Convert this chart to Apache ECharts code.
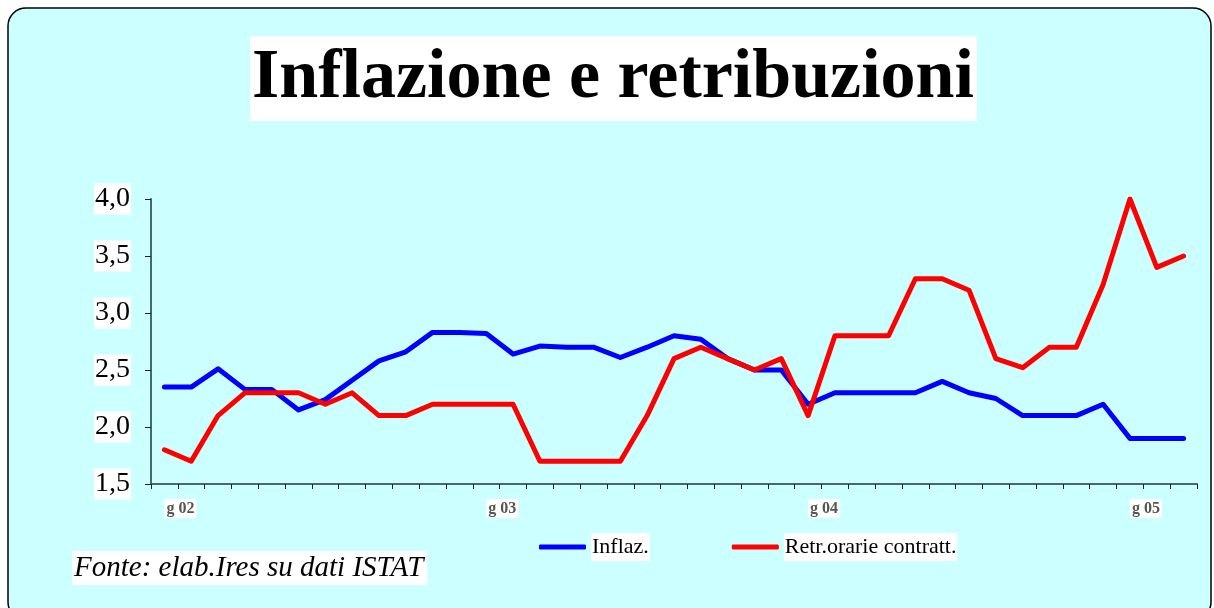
<!DOCTYPE html>
<html>
<head>
<meta charset="utf-8">
<script src="https://cdn.jsdelivr.net/npm/echarts@6/dist/echarts.min.js"></script>
<style>
    html, body { margin: 0; padding: 0; background: #fff; }
    #chart { width: 1214px; height: 608px; }
</style>
</head>
<body>
<div id="chart"></div>
<script>
    // mesi gen 2002 - mar 2005
    var mesi = ['gen','feb','mar','apr','mag','giu','lug','ago','set','ott','nov','dic'];
    var anni = ['02','03','04','05'];
    var categorie = [];
    for (var a = 0; a < anni.length; a++) {
        for (var m = 0; m < mesi.length; m++) {
            if (a === 3 && m > 2) break;
            categorie.push(mesi[m] + ' ' + anni[a]);
        }
    }
    var yTicks = ['1,5','2,0','2,5','3,0','3,5','4,0'];

    var inflaz = [2.35, 2.35, 2.51, 2.33, 2.33, 2.15, 2.24, 2.41, 2.58, 2.66, 2.83, 2.83,
                  2.82, 2.64, 2.71, 2.70, 2.70, 2.61, 2.70, 2.80, 2.77, 2.60, 2.50, 2.50,
                  2.20, 2.30, 2.30, 2.30, 2.30, 2.40, 2.30, 2.25, 2.10, 2.10, 2.10, 2.20,
                  1.90, 1.90, 1.90];
    var retrib = [1.80, 1.70, 2.10, 2.30, 2.30, 2.30, 2.20, 2.30, 2.10, 2.10, 2.20, 2.20,
                  2.20, 2.20, 1.70, 1.70, 1.70, 1.70, 2.10, 2.60, 2.70, 2.60, 2.50, 2.60,
                  2.10, 2.80, 2.80, 2.80, 3.30, 3.30, 3.20, 2.60, 2.52, 2.70, 2.70, 3.25,
                  4.00, 3.40, 3.50];

    var serif = '"Liberation Serif", "DejaVu Serif", serif';
    var chart = echarts.init(document.getElementById('chart'));

    chart.setOption({
        animation: false,
        backgroundColor: '#fff',
        title: {
            text: 'Inflazione e retribuzioni',
            left: 250,
            top: 36,
            padding: [8, 3, 7, 2],
            backgroundColor: '#fff',
            textStyle: {
                fontFamily: serif,
                fontWeight: 'bold',
                fontSize: 70,
                lineHeight: 70,
                color: '#000'
            }
        },
        legend: {
            left: 539,
            top: 533,
            padding: 0,
            width: 600,
            icon: 'roundRect',
            itemWidth: 47,
            itemHeight: 5,
            itemGap: 82,
            textStyle: {
                fontFamily: serif,
                fontSize: 22,
                color: '#000',
                backgroundColor: '#fff',
                padding: [3, 1, 3, 1]
            },
            data: ['Inflaz.', 'Retr.orarie contratt.']
        },
        grid: { left: 151, right: 17, top: 199, bottom: 124 },
        xAxis: {
            type: 'category',
            data: categorie,
            boundaryGap: true,
            axisLine: { lineStyle: { color: '#4a6868', width: 2 } },
            axisTick: { show: true, interval: 0, length: 5, lineStyle: { color: '#222', width: 1 } },
            axisLabel: {
                interval: function (idx) { return idx % 12 === 0; },
                formatter: function (v) {
                    return v.charAt(0) + ' ' + v.split(' ')[1];
                },
                align: 'left',
                margin: 15,
                fontFamily: serif,
                fontWeight: 'bold',
                fontSize: 16,
                color: '#555',
                backgroundColor: '#fff',
                padding: [2, 2, 1, 2]
            },
            splitLine: { show: false }
        },
        yAxis: {
            type: 'value',
            min: 1.5,
            max: 4.0,
            interval: 0.5,
            axisLine: { show: true, lineStyle: { color: '#4a6868', width: 2 } },
            axisTick: { show: true, length: 6, lineStyle: { color: '#222', width: 1 } },
            axisLabel: {
                margin: 20,
                fontFamily: serif,
                fontSize: 28,
                color: '#000',
                backgroundColor: '#fff',
                padding: [2, 1, 1, 1],
                formatter: function (v) {
                    return yTicks[Math.round((v - 1.5) / 0.5)];
                }
            },
            splitLine: { show: false }
        },
        series: [
            {
                name: 'Inflaz.',
                type: 'line',
                data: inflaz,
                symbol: 'none',
                color: '#0000ff',
                lineStyle: { color: '#0000ff', width: 5, cap: 'round', join: 'round' }
            },
            {
                name: 'Retr.orarie contratt.',
                type: 'line',
                data: retrib,
                symbol: 'none',
                color: '#ff0000',
                lineStyle: { color: '#ff0000', width: 5, cap: 'round', join: 'round' }
            }
        ],
        graphic: [
            {
                type: 'rect',
                z: -10,
                silent: true,
                shape: { x: 8, y: 8, width: 1203, height: 612, r: 18 },
                style: { fill: '#ccffff', stroke: '#000', lineWidth: 1.5 }
            },
            {
                type: 'text',
                left: 72,
                top: 551,
                style: {
                    text: 'Fonte: elab.Ires su dati ISTAT',
                    font: 'italic 29px ' + serif,
                    fill: '#000',
                    backgroundColor: '#fff',
                    padding: [3, 4, 2, 2]
                }
            }
        ]
    });
</script>
</body>
</html>
